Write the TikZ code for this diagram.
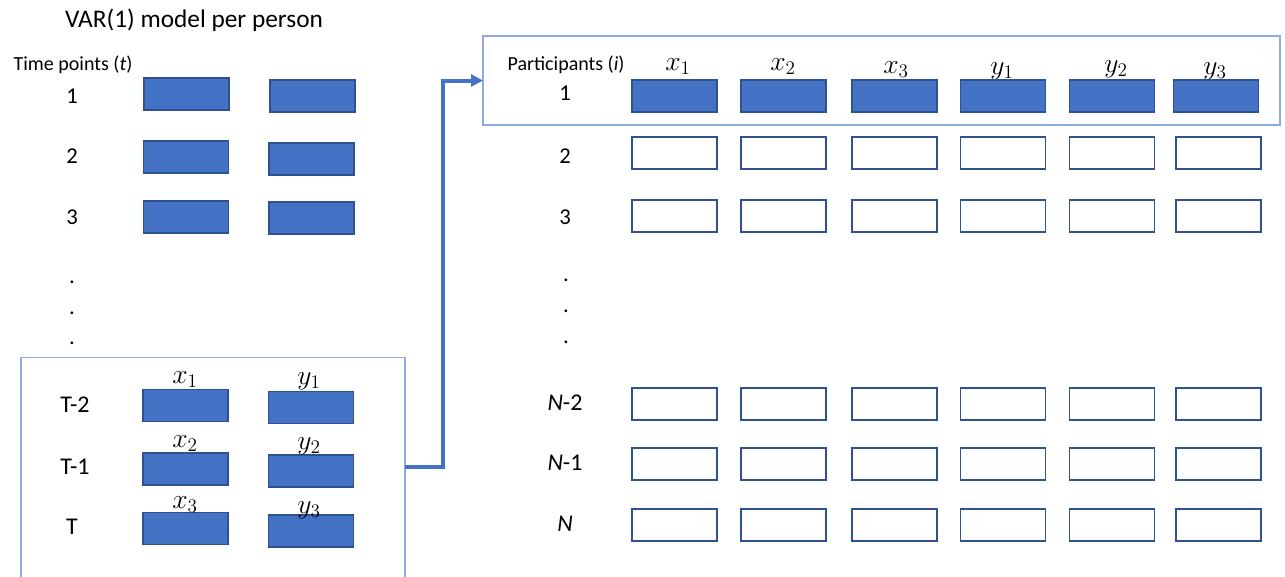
\documentclass[tikz,border=0pt]{standalone}
\usepackage{fontspec}
\setmainfont{Carlito}
\usetikzlibrary{arrows.meta}
\definecolor{boxblue}{HTML}{4472C4}
\definecolor{boxedge}{HTML}{2F528F}
\definecolor{framecol}{HTML}{8FAADC}

\begin{document}
\begin{tikzpicture}[x=0.75pt,y=-0.75pt,
  filled/.style={draw=boxedge, fill=boxblue, line width=0.8pt,
    minimum width=63.75pt, minimum height=24pt, inner sep=0pt, outer sep=0pt},
  empty/.style={draw=boxedge, fill=white, line width=1.2pt,
    minimum width=63.75pt, minimum height=24pt, inner sep=0pt, outer sep=0pt},
  framebox/.style={draw=framecol, line width=0.9pt, inner sep=0pt, outer sep=0pt},
  title/.style={font=\fontsize{19}{22}\selectfont, inner sep=0pt},
  head/.style={font=\fontsize{15}{18}\selectfont, inner sep=0pt},
  num/.style={font=\fontsize{17}{20}\selectfont, inner sep=0pt},
  big/.style={font=\fontsize{18}{21}\selectfont, inner sep=0pt},
  var/.style={font=\fontsize{19.5}{22}\selectfont, inner sep=0pt, anchor=base},
  flow/.style={draw=boxblue, line width=3pt, -{Triangle[length=9pt,width=9pt]}},
]
\useasboundingbox (0,0) rectangle (1285,576);
\clip (0,0) rectangle (1285,576);

% ---------------- left: one person's time series ----------------
\node[framebox, minimum width=288pt, minimum height=182pt] (lbox) at (213,478.5) {};

\node[title] (ttl) at (194,20) {VAR(1) model per person};
\node[head] (tp) at (73,65) {Time points (\textit{t})};

\node[num] (t1) at (72,96) {1};
\node[num] (t2) at (72,156) {2};
\node[num] (t3) at (72,217) {3};
\node[num] (d1) at (72,282) {.};
\node[num] (d2) at (72,313) {.};
\node[num] (d3) at (72,343) {.};
\node[big] (tm2) at (75,405) {T-2};
\node[big] (tm1) at (75,467) {T-1};
\node[big] (tt)  at (72,527) {T};

\node[filled] (a1) at (186.5,94) {};
\node[filled] (b1) at (312.5,96) {};
\node[filled] (a2) at (186,157) {};
\node[filled] (b2) at (311.5,159) {};
\node[filled] (a3) at (186,217) {};
\node[filled] (b3) at (311.5,218) {};

\node[filled] (ax1) at (185.5,405.5) {};
\node[filled] (by1) at (311,407.5) {};
\node[filled] (ax2) at (185.5,469) {};
\node[filled] (by2) at (311,471) {};
\node[filled] (ax3) at (185.5,528.5) {};
\node[filled] (by3) at (311,531) {};

\node[var] (lx1) at (185,383) {$x_1$};
\node[var] (ly1) at (309,384) {$y_1$};
\node[var] (lx2) at (185,447) {$x_2$};
\node[var] (ly2) at (309,449) {$y_2$};
\node[var] (lx3) at (185,508) {$x_3$};
\node[var] (ly3) at (309,513) {$y_3$};

% ---------------- right: participants by variables ----------------
\node[framebox, minimum width=597.75pt, minimum height=66.75pt] (rbox) at (881.5,80.5) {};

\node[head] (pt) at (566,65) {Participants (\textit{i})};

\node[num] (p1) at (565,93) {1};
\node[num] (p2) at (565,156) {2};
\node[num] (p3) at (565,217) {3};
\node[num] (e1) at (566,280) {.};
\node[num] (e2) at (566,311) {.};
\node[num] (e3) at (566,342) {.};
\node[big] (pn2) at (565,403) {\textit{N}-2};
\node[big] (pn1) at (565,463) {\textit{N}-1};
\node[big] (pn)  at (565,524) {\textit{N}};

\node[var] (hx1) at (678,70) {$x_1$};
\node[var] (hx2) at (783,70) {$x_2$};
\node[var] (hx3) at (896,73) {$x_3$};
\node[var] (hy1) at (1002,74) {$y_1$};
\node[var] (hy2) at (1116,72) {$y_2$};
\node[var] (hy3) at (1215,74) {$y_3$};

\foreach \cx [count=\c] in {674.5,783.5,894.5,1003,1112,1216}
  \node[filled] (r1c\c) at (\cx,96) {};

\foreach \ry/\rn in {153/2,216/3,404/n2,464/n1,525/n}
  \foreach \cx [count=\c] in {674.5,783.5,894.5,1003,1112,1218.5}
    \node[empty] (r\rn c\c) at (\cx,\ry) {};

% ---------------- connector ----------------
\coordinate (bend) at (443,0);
\draw[flow] (lbox.east |- tm1) -| (bend |- rbox.west) -- (rbox.west);

\end{tikzpicture}
\end{document}
